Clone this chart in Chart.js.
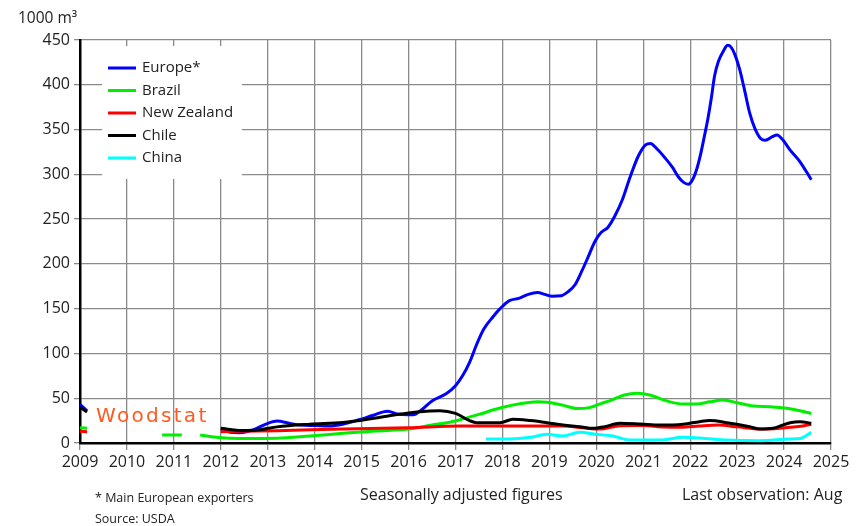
<!doctype html>
<html>

<head>
	<title>Exports 1000 m3</title>
	<script src="https://cdn.jsdelivr.net/npm/chart.js@4/dist/chart.umd.min.js"></script>
	<style>
	body { margin: 0; background: #fff; }
	#wrap { position: relative; width: 861px; height: 526px; font-family: "Open Sans", sans-serif; color: #222; }
	#wrap div.txt { position: absolute; white-space: nowrap; }
	</style>
</head>

<body>
	<div id="wrap">
		<canvas id="canvas" width="861" height="526"></canvas>
		<div class="txt" style="left:18px; top:6px; font-size:15.5px;">1000 m³</div>
		<div class="txt" style="left:96px; top:403px; font-family:'DejaVu Sans', sans-serif; font-size:20px; letter-spacing:2.3px; color:#ff5a1f;">Woodstat</div>
		<div class="txt" style="left:95px; top:489px; font-size:12.5px;">* Main European exporters</div>
		<div class="txt" style="left:95px; top:510px; font-size:12.5px;">Source: USDA</div>
		<div class="txt" style="left:360px; top:483px; font-size:16px;">Seasonally adjusted figures</div>
		<div class="txt" style="left:682px; top:483px; font-size:16px;">Last observation: Aug</div>
	</div>
	<script>
		// values in 1000 m3, x = decimal year, null = no data
		var europeX = [2009.0, 2009.15, 2009.2, 2012.0, 2012.2, 2012.4, 2012.7, 2013.0, 2013.2, 2013.45, 2013.7, 2014.0, 2014.3, 2014.6, 2014.95, 2015.25, 2015.55, 2015.8, 2016.1, 2016.3, 2016.5, 2016.8, 2017.0, 2017.15, 2017.3, 2017.45, 2017.6, 2017.8, 2017.95, 2018.15, 2018.35, 2018.55, 2018.75, 2018.9, 2019.05, 2019.25, 2019.4, 2019.55, 2019.7, 2019.82, 2019.97, 2020.1, 2020.25, 2020.4, 2020.55, 2020.72, 2020.9, 2021.05, 2021.15, 2021.3, 2021.47, 2021.62, 2021.75, 2021.86, 2021.96, 2022.05, 2022.14, 2022.22, 2022.3, 2022.38, 2022.45, 2022.52, 2022.6, 2022.7, 2022.8, 2022.87, 2022.95, 2023.05, 2023.15, 2023.27, 2023.38, 2023.5, 2023.6, 2023.75, 2023.85, 2023.98, 2024.13, 2024.34, 2024.58];
		var europeY = [43, 36, null, 16, 12, 11.5, 15, 22, 24.5, 22, 20, 19.5, 19, 21, 26, 31, 35.5, 32, 31.5, 38, 47, 55, 64, 75, 90, 110, 127, 141, 150, 159, 161.5, 166, 168, 166, 164, 164.5, 169, 177, 193, 207, 225, 235, 241, 254, 271, 297, 321, 333, 334.5, 328, 318, 308, 297, 291, 289, 294, 306, 322, 342, 363, 385, 410, 426, 437, 444, 442, 434, 418, 396, 368, 351, 340, 338, 342, 344, 338, 327, 314, 294];

		var brazilX = [2009.0, 2009.15, 2009.2, 2010.75, 2011.17, 2011.3, 2011.56, 2011.8, 2012.1, 2012.5, 2013.2, 2013.9, 2014.6, 2015.3, 2016.0, 2016.5, 2016.9, 2017.1, 2017.5, 2017.95, 2018.4, 2018.75, 2018.95, 2019.3, 2019.6, 2019.85, 2020.1, 2020.35, 2020.6, 2020.87, 2021.14, 2021.5, 2021.85, 2022.14, 2022.42, 2022.7, 2023.0, 2023.34, 2023.7, 2024.06, 2024.34, 2024.58];
		var brazilY = [17, 16.5, null, 9, 9, null, 9, 7, 5.5, 5, 5.2, 7.8, 10.8, 13.4, 15.6, 20, 23.5, 26, 32, 39, 44, 46, 45.5, 42, 38.5, 39.5, 44, 48.5, 53.6, 55.5, 53.6, 47, 43.5, 43.5, 46, 48, 45, 41.3, 40.5, 38.7, 36, 33];

		var nzX = [2009.0, 2009.15, 2009.2, 2012.0, 2013.2, 2014.6, 2016.0, 2017.1, 2018.5, 2019.3, 2019.7, 2020.1, 2020.5, 2021.0, 2021.4, 2021.8, 2022.2, 2022.6, 2023.0, 2023.49, 2023.8, 2024.13, 2024.4, 2024.58];
		var nzY = [13, 12.5, null, 12.6, 13.8, 15.6, 17, 19, 19, 19, 17, 15.5, 19.4, 19.5, 18, 17.5, 19, 20, 18, 15.6, 16, 17.5, 19, 21];

		var chileX = [2009.0, 2009.15, 2009.2, 2012.0, 2012.45, 2012.8, 2013.2, 2013.9, 2014.6, 2015.3, 2015.8, 2016.24, 2016.67, 2017.0, 2017.3, 2017.45, 2017.95, 2018.22, 2018.59, 2018.95, 2019.29, 2019.65, 2019.93, 2020.18, 2020.5, 2020.93, 2021.36, 2021.85, 2022.2, 2022.42, 2022.78, 2023.27, 2023.49, 2023.76, 2024.13, 2024.34, 2024.58];
		var chileY = [40, 34.5, null, 16.4, 14, 14.5, 18, 21, 23, 28, 32, 35, 36, 33, 25, 22.7, 22.7, 26.4, 25, 22.7, 20, 18.2, 16.4, 18.2, 22, 21.2, 20, 21, 23.8, 25, 22.7, 18.2, 15.6, 16.4, 22.7, 23.8, 22];

		var chinaX = [2017.65, 2018.16, 2018.59, 2018.95, 2019.29, 2019.65, 2020.0, 2020.35, 2020.72, 2021.36, 2021.85, 2022.2, 2022.78, 2023.49, 2024.13, 2024.34, 2024.58];
		var chinaY = [4.5, 4.5, 6.3, 9.7, 7.8, 11.9, 9.7, 7.8, 3.3, 3.3, 6.3, 5.6, 3.3, 2.6, 4.5, 5, 11.9];

		var seriesNames = ['Europe*', 'Brazil', 'New Zealand', 'Chile', 'China'];
		var seriesColors = ['#0000ff', '#00ee00', '#ff0000', '#000000', '#00ffff'];
		var drawOrder = [3, 5, 2, 1, 4];

		function points(xs, ys) {
			return xs.map(function(x, i) { return { x: x, y: ys[i] }; });
		}

		var allX = [europeX, brazilX, nzX, chileX, chinaX];
		var allY = [europeY, brazilY, nzY, chileY, chinaY];

		var datasets = seriesNames.map(function(name, i) {
			return {
				label: name,
				data: points(allX[i], allY[i]),
				borderColor: seriesColors[i],
				backgroundColor: seriesColors[i],
				borderWidth: 3,
				pointRadius: 0,
				cubicInterpolationMode: 'monotone',
				spanGaps: false,
				order: drawOrder[i]
			};
		});

		// legend in a white box inside the plot
		var boxLegend = {
			id: 'boxLegend',
			beforeDatasetsDraw: function(chart) {
				var ctx = chart.ctx;
				var a = chart.chartArea;
				var left = a.left + 22, top = a.top + 6;
				ctx.save();
				ctx.fillStyle = '#ffffff';
				ctx.fillRect(left, top, 140, 133);
				ctx.font = '15px "Open Sans", sans-serif';
				ctx.textBaseline = 'middle';
				chart.data.datasets.forEach(function(ds, i) {
					var y = a.top + 28 + i * 22.5;
					ctx.strokeStyle = ds.borderColor;
					ctx.lineWidth = 3;
					ctx.beginPath();
					ctx.moveTo(a.left + 28, y);
					ctx.lineTo(a.left + 56, y);
					ctx.stroke();
					ctx.fillStyle = '#222';
					ctx.fillText(ds.label, a.left + 62, y);
				});
				ctx.restore();
			}
		};

		window.onload = function() {
			var ctx = document.getElementById('canvas').getContext('2d');
			window.myChart = new Chart(ctx, {
				type: 'line',
				data: { datasets: datasets },
				plugins: [boxLegend],
				options: {
					responsive: false,
					animation: false,
					layout: { padding: { left: 0, right: 30, top: 40, bottom: 0 } },
					plugins: {
						legend: { display: false },
						tooltip: { enabled: false }
					},
					scales: {
						x: {
							type: 'linear',
							min: 2009,
							max: 2025,
							afterFit: function(scale) { scale.height = 83; },
							ticks: {
								stepSize: 1,
								color: '#222',
								padding: 3,
								maxRotation: 0,
								autoSkip: false,
								font: { family: 'Open Sans', size: 16 },
								callback: function(v) { return String(v); }
							},
							grid: { color: '#8a8a8a', lineWidth: 1.3, tickLength: 7 },
							border: { color: '#000', width: 2.5 }
						},
						y: {
							min: 0,
							max: 450,
							afterFit: function(scale) { scale.width = 80; },
							ticks: {
								stepSize: 50,
								color: '#222',
								padding: 4,
								font: { family: 'Open Sans', size: 16 }
							},
							grid: { color: '#8a8a8a', lineWidth: 1.3, tickLength: 6 },
							border: { color: '#000', width: 2.5 }
						}
					}
				}
			});
		};
	</script>

</body>

</html>
